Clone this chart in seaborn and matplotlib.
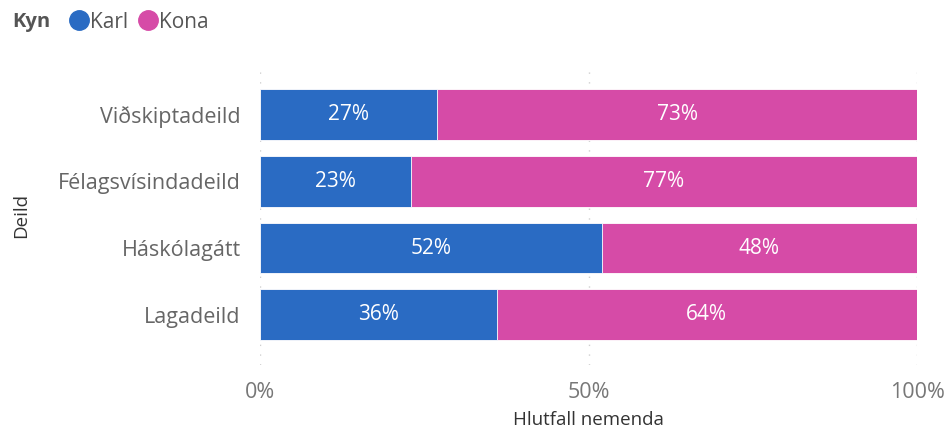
import numpy as np
import pandas as pd
import seaborn as sns
import matplotlib.pyplot as plt
from matplotlib.lines import Line2D

# --- data ---
deildir = ["Viðskiptadeild", "Félagsvísindadeild", "Háskólagátt", "Lagadeild"]
karl = [27, 23, 52, 36]
kona = [73, 77, 48, 64]

blue = "#2A6BC3"
pink = "#D64BA7"

df = pd.DataFrame({"Deild": deildir, "Karl": karl, "Kona": kona})
df["Samtals"] = df["Karl"] + df["Kona"]

sns.set_style("white")
plt.rcParams["font.family"] = ["Open Sans", "DejaVu Sans"]

fig = plt.figure(figsize=(9.51, 4.32), dpi=100)
ax = fig.add_axes([260 / 951, 67 / 432, 657 / 951, 300 / 432])

# stacked 100% bars: full (pink) first, then Karl (blue) over it
sns.barplot(data=df, x="Samtals", y="Deild", color=pink, width=0.76,
            orient="h", ax=ax, edgecolor="white", linewidth=0.6, saturation=1)
sns.barplot(data=df, x="Karl", y="Deild", color=blue, width=0.76,
            orient="h", ax=ax, edgecolor="white", linewidth=0.6, saturation=1)

# percentage labels in the segments
for i, (k, w) in enumerate(zip(karl, kona)):
    ax.text(k / 2, i, f"{k}%", color="white", ha="center", va="center", fontsize=15)
    ax.text(k + w / 2, i, f"{w}%", color="white", ha="center", va="center", fontsize=15)

ax.set_xlim(0, 100)
ax.set_ylim(3.75, -0.74)
ax.set_xticks([0, 50, 100])
ax.set_xticklabels(["0%", "50%", "100%"])
for x in [0, 50, 100]:
    ax.axvline(x, color="#cfcfcf", linestyle=(0, (1, 6)), linewidth=1, zorder=0)

ax.tick_params(axis="x", length=0, pad=12, labelsize=15.5, labelcolor="#777777")
ax.tick_params(axis="y", length=0, pad=14, labelsize=15.5, labelcolor="#666666")
ax.set_xlabel("Hlutfall nemenda", fontsize=13.5, color="#333333", labelpad=6)
ax.set_ylabel("Deild", fontsize=13.5, color="#333333", labelpad=20)
sns.despine(ax=ax, left=True, bottom=True)

# legend: "Kyn" title on the left, then circles
fig.text(12 / 951, 1 - 22 / 432, "Kyn", fontsize=14.5, fontweight="bold",
         color="#555555", va="center", ha="left")
handles = [Line2D([], [], marker="o", linestyle="", markersize=14, color=blue),
           Line2D([], [], marker="o", linestyle="", markersize=14, color=pink)]
fig.legend(handles, ["Karl", "Kona"], loc="center left", ncol=2,
           bbox_to_anchor=(47 / 951, 1 - 22 / 432), frameon=False,
           handletextpad=-0.12, columnspacing=0.3, handlelength=1.3,
           prop={"size": 15}, labelcolor="#555555")

fig.savefig("out.png", dpi=100)
